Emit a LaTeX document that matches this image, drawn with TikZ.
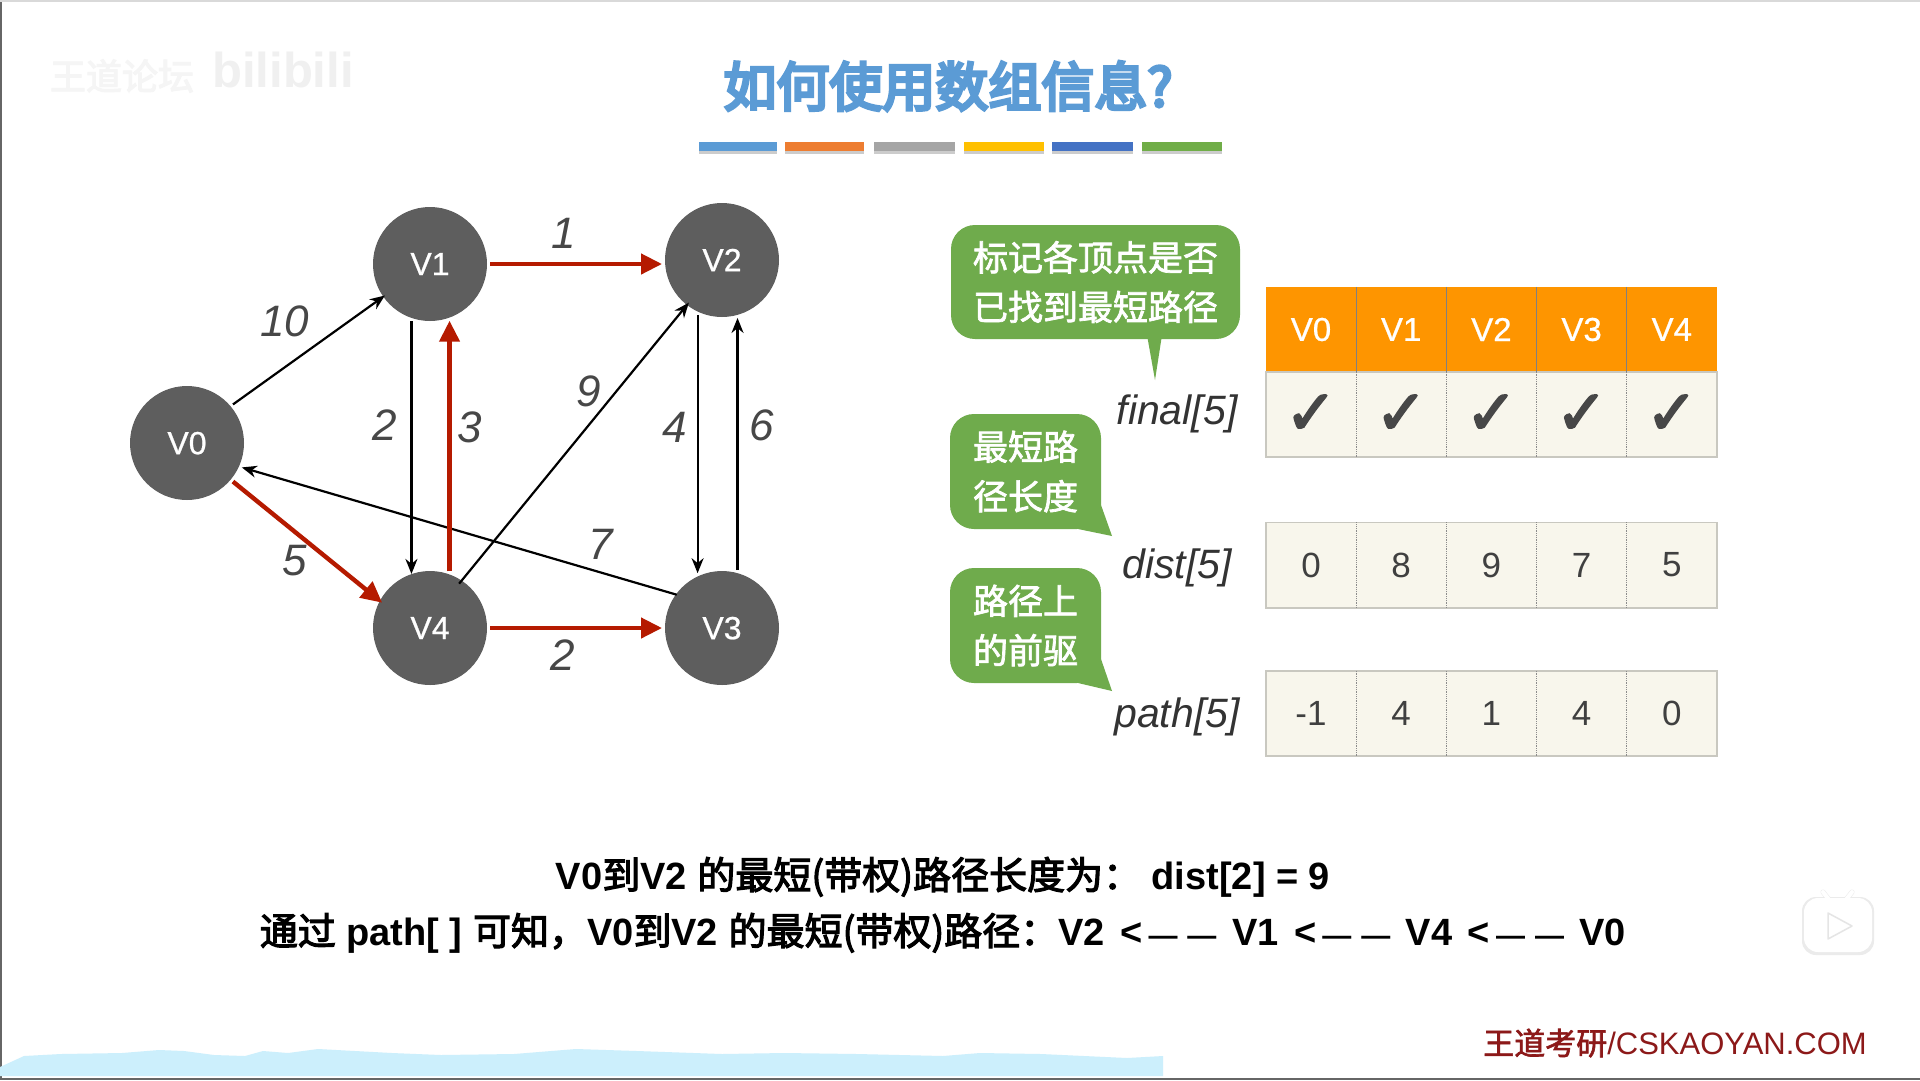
\documentclass[tikz,border=0pt]{standalone}
\usepackage{fontspec}
\setmainfont{Liberation Sans}
\newfontfamily\cjk[FakeBold=3]{Noto Sans CJK SC}
\newfontfamily\cjkmid[FakeBold=2]{Noto Sans CJK SC}
\newfontfamily\cjkheavy[FakeBold=6]{Noto Sans CJK SC}
\newfontfamily\semi[FakeBold=.7]{Liberation Sans}
\newfontfamily\tick[FakeBold=3]{DejaVu Sans}
\usetikzlibrary{arrows.meta}
\newcommand{\fs}[1]{\fontsize{#1}{#1}\selectfont}
\newcommand{\zh}[1]{{\cjk\mdseries #1}}
\newcommand{\backarrow}{\hspace{5pt}<\hspace{6pt}{\fs{29}—}\hspace{10pt}{\fs{29}—}\hspace{5pt}}
\definecolor{vgray}{HTML}{5E5E5E}
\definecolor{redline}{HTML}{B51A00}
\definecolor{tipgreen}{HTML}{6FAB4C}
\definecolor{headorange}{HTML}{FE9500}
\definecolor{cellbg}{HTML}{F8F6EC}
\definecolor{cellline}{HTML}{C9C8C0}
\definecolor{titleblue}{HTML}{5B9BD5}
\tikzset{
  vertex/.style={circle, fill=vgray, text=white, minimum size=114, inner sep=0, outer sep=3, text depth=0, font=\semi\fs{32}},
  black edge/.style={black, line width=2.2, -{Stealth[length=15,width=12]}},
  red edge/.style={redline, line width=4.4, -{Stealth[length=21,width=20,inset=0]}},
  weight/.style={font=\fs{44}\itshape, text=black!72},
  tip/.style={fill=tipgreen, rounded corners=24, text=white, align=center, inner sep=0, font=\cjkmid\fontsize{35}{49.5}\selectfont},
  arr name/.style={font=\fs{41}\itshape, text=black!80},
  head cell/.style={fill=headorange, text=white, minimum width=90.2, minimum height=85, inner sep=0, font=\semi\fs{33}},
  data cell/.style={fill=cellbg, text=black!75, minimum width=90.2, inner sep=0, font=\fs{35}},
  say/.style={font=\fs{38}\bfseries},
}
\begin{document}
\begin{tikzpicture}[x=1pt, y=-1pt]
\useasboundingbox (0,0) rectangle (1920,1080);
\fill[white] (0,0) rectangle (1920,1080);
\draw[black!60, line width=2] (1,0)--(1,1080);
\draw[black!15, line width=2] (0,1)--(1920,1);
\draw[black!60, line width=2] (0,1079)--(1920,1079);
% watermark
\node[text=black!4, font=\cjk\fs{36}] (mark) at (122,76) {王道论坛};
\node[text=black!6, font=\fs{49}\bfseries] (bili) at (283,70) {bilibili};
% heading and colour bars
\node[text=titleblue, font=\cjkheavy\fs{53}] (title) at (948,86) {如何使用数组信息?};
\foreach \xa/\xb/\c in {699/777/5B9BD5, 785/864/ED7D31, 874/955/A5A5A5, 964/1044/FFC000, 1052/1133/4472C4, 1142/1222/70AD47} {
 \definecolor{barcol}{HTML}{\c}
 \fill[black!20] (\xa,150) rectangle (\xb,154);
 \fill[barcol] (\xa,142) rectangle (\xb,151);
}
% graph
\node[vertex] (V0) at (187,443) {V0};
\node[vertex] (V1) at (430,264) {V1};
\node[vertex] (V2) at (722,260) {V2};
\node[vertex] (V3) at (722,628) {V3};
\node[vertex] (V4) at (430,628) {V4};
\draw[black edge, shorten >=-5] (V0.40)--(V1.215);
\draw[black edge, shorten >=-3] (V1.-108)--(V4.108);
\draw[black edge, shorten <=-7, shorten >=-6] (V4.56)--(V2.232);
\draw[black edge] (V2.-114)--(V3.114);
\draw[black edge] (V3.75)--(V2.-75);
\draw[black edge, shorten <=-4] (V3.145)--(V0.-24);
\draw[red edge] (V1.east)--(V1.east -| V2.west);
\draw[red edge] (V4.71)--(V1.-71);
\draw[red edge, shorten >=-6] (V0.-40)--(V4.151);
\draw[red edge] (V4.east)--(V3.west);
\node[weight] (w01) at (285,321) {10};
\node[weight] (w12) at (564,233) {1};
\node[weight] (w14) at (385,425) {2};
\node[weight] (w41) at (470,427) {3};
\node[weight] (w42) at (589,391) {9};
\node[weight] (w23) at (675,427) {4};
\node[weight] (w32) at (762,425) {6};
\node[weight] (w30) at (601,544) {7};
\node[weight] (w04) at (295,561) {5};
\node[weight] (w43) at (563,655) {2};
% callouts
\node[tip, minimum width=289, minimum height=114] (tipa) at (1095.5,282) {标记各顶点是否\\已找到最短路径};
\fill[tipgreen] (1147,335)--(1155,380)--(1162,335)--cycle;
\node[tip, minimum width=151, minimum height=115] (tipb) at (1025.5,471.5) {最短路\\径长度};
\fill[tipgreen] (1101,505)--(1112,536)--(1078,529)--cycle;
\node[tip, minimum width=151, minimum height=115] (tipc) at (1025.5,625.5) {路径上\\的前驱};
\fill[tipgreen] (1101,659)--(1112,691)--(1078,683)--cycle;
% arrays
\node[arr name] (final) at (1177,414) {final[5]};
\node[arr name] (dist) at (1177,568) {dist[5]};
\node[arr name] (path) at (1177,717) {path[5]};
\foreach \v [count=\i from 0] in {V0,V1,V2,V3,V4} {
 \node[head cell] (h\i) at (1311+90.2*\i,329.5) {\raisebox{-2pt}{\v}};
 \node[data cell, minimum height=85, text=black!72, font=\tick\fs{62}] (f\i) at (1311+90.2*\i,414.5) {\raisebox{-5pt}{✓}};
}
\foreach \v [count=\i from 0] in {0,8,9,7,5} {
 \node[data cell, minimum height=85] (d\i) at (1311+90.2*\i,565) {\raisebox{-1pt}{\v}};
}
\foreach \v [count=\i from 0] in {-1,4,1,4,0} {
 \node[data cell, minimum height=85] (p\i) at (1311+90.2*\i,713.5) {\raisebox{-1pt}{\v}};
}
\foreach \r in {f,d,p} {
 \draw[cellline, line width=1.6] (\r0.north west) rectangle (\r4.south east);
 \foreach \i in {1,2,3,4} {
  \draw[black!45, line width=.8, densely dotted] (\r\i.north west)--(\r\i.south west);
 }
}
\foreach \i in {1,2,3,4} {
 \draw[black!50, line width=.8] (h\i.north west)--(h\i.south west);
}
% bottom lines
\node[say] (line1) at (943,877) {V0\zh{到}V2 \zh{的最短(带权)路径长度为：}\ dist[2] = 9};
\node[say] (line2) at (943,933) {\zh{通过} path[ ] \zh{可知，}V0\zh{到}V2 \zh{的最短(带权)路径：}V2 \backarrow\ V1 \backarrow\ V4 \backarrow\ V0};
% player badge
\draw[black!8, line width=5, line cap=round] (1823,892)--(1830,901) (1852,892)--(1845,901);
\fill[black!8, rounded corners=14] (1802,897) rectangle (1874,955);
\fill[white, rounded corners=14] (1804,898) rectangle (1872,952);
\draw[white, line width=4, line cap=round] (1823,892)--(1830,901) (1852,892)--(1845,901);
\draw[black!10, fill=white, line width=1.5, line join=round] (1828,913)--(1852,926)--(1828,939)--cycle;
% footer
\fill[cyan!20] (0,1067)--(24,1056)--(61,1054)--(122,1053)--(159,1050)--(184,1051)--(214,1055)--(245,1056)--(263,1051)--(288,1053)--(318,1049)--(355,1051)--(392,1053)--(441,1055)--(514,1054)--(576,1049)--(637,1051)--(722,1054)--(784,1053)--(857,1054)--(943,1056)--(980,1053)--(1041,1054)--(1127,1058)--(1163,1056)--(1163,1076)--(0,1076)--cycle;
\node[text=red!50!black!90, font=\fs{31}] (site) at (1675,1043) {{\cjkmid\fontsize{31}{31}\selectfont 王道考研}/CSKAOYAN.COM};
\end{tikzpicture}
\end{document}
